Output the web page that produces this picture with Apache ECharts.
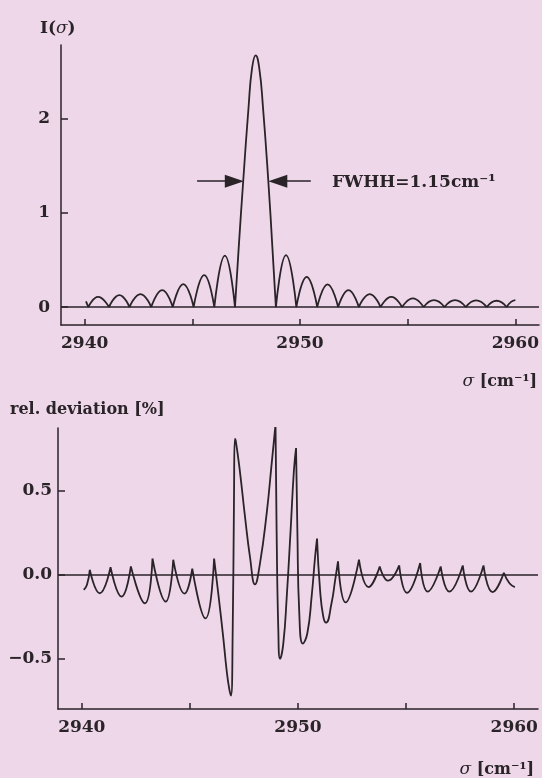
<!DOCTYPE html>
<html>
<head>
<meta charset="utf-8">
<script src="https://cdn.jsdelivr.net/npm/echarts@6/dist/echarts.min.js"></script>
<style>
  html, body { margin: 0; padding: 0; background: #edd7e9; }
  #chart { width: 542px; height: 778px; }
</style>
</head>
<body>
<div id="chart"></div>
<script>
// upper panel: line shape I(sigma), one lobe per row, null = break at a zero
const topSigma = [
  2940.06, 2940.17, null,
  2940.17, 2940.62, 2941.13, null,
  2941.13, 2941.61, 2942.08, null,
  2942.08, 2942.59, 2943.09, null,
  2943.09, 2943.60, 2944.09, null,
  2944.09, 2944.58, 2945.06, null,
  2945.06, 2945.55, 2946.02, null,
  2946.02, 2946.51, 2946.98, null,
  2946.98, 2947.15, 2947.36, 2947.61, 2947.77, 2947.94, 2948.11, 2948.28, 2948.53, 2948.72, 2948.88, null,
  2948.88, 2949.35, 2949.83, null,
  2949.83, 2950.31, 2950.80, null,
  2950.80, 2951.28, 2951.77, null,
  2951.77, 2952.25, 2952.73, null,
  2952.73, 2953.24, 2953.74, null,
  2953.74, 2954.24, 2954.74, null,
  2954.74, 2955.24, 2955.74, null,
  2955.74, 2956.22, 2956.71, null,
  2956.71, 2957.20, 2957.70, null,
  2957.70, 2958.18, 2958.67, null,
  2958.67, 2959.13, 2959.60, null,
  2959.60, 2959.80, 2960.00
];
const topIntensity = [
  0.06, 0, null,
  0, 0.109, 0, null,
  0, 0.127, 0, null,
  0, 0.138, 0, null,
  0, 0.18, 0, null,
  0, 0.244, 0, null,
  0, 0.339, 0, null,
  0, 0.546, 0, null,
  0, 0.62, 1.33, 2.12, 2.53, 2.67, 2.53, 2.12, 1.33, 0.62, 0, null,
  0, 0.551, 0, null,
  0, 0.321, 0, null,
  0, 0.241, 0, null,
  0, 0.18, 0, null,
  0, 0.138, 0, null,
  0, 0.109, 0, null,
  0, 0.092, 0, null,
  0, 0.074, 0, null,
  0, 0.074, 0, null,
  0, 0.072, 0, null,
  0, 0.067, 0, null,
  0, 0.055, 0.074
];

// lower panel: relative deviation [%], null = break at a cusp
const devSigma = [
  2940.09, 2940.24, 2940.37, null,
  2940.37, 2940.83, 2941.33, null,
  2941.33, 2941.84, 2942.27, null,
  2942.27, 2942.92, 2943.27, null,
  2943.27, 2943.88, 2944.23, null,
  2944.23, 2944.75, 2945.11, null,
  2945.11, 2945.72, 2946.12, null,
  2946.12, 2946.32, 2946.54, 2946.70, 2946.82, 2946.90, 2946.98, 2947.04, 2947.08, 2947.12,
  2947.31, 2947.55, 2947.78, 2948.01, 2948.24, 2948.55, 2948.78, 2948.96, null,
  2948.96, 2949.01, 2949.09, 2949.17, 2949.32, 2949.48, 2949.66, 2949.81, 2949.91, null,
  2949.91, 2949.97, 2950.06, 2950.22, 2950.43, 2950.63, 2950.79, 2950.88, null,
  2950.88, 2951.02, 2951.17, 2951.30, 2951.55, 2951.72, 2951.85, null,
  2951.85, 2952.20, 2952.82, null,
  2952.82, 2953.26, 2953.78, null,
  2953.78, 2954.17, 2954.68, null,
  2954.68, 2955.04, 2955.65, null,
  2955.65, 2956.00, 2956.60, null,
  2956.60, 2957.00, 2957.62, null,
  2957.62, 2958.00, 2958.58, null,
  2958.58, 2959.00, 2959.52, null,
  2959.52, 2959.78, 2960.03
];
const devValue = [
  -0.09, -0.06, 0.03, null,
  0.03, -0.11, 0.045, null,
  0.045, -0.13, 0.05, null,
  0.05, -0.17, 0.097, null,
  0.097, -0.16, 0.09, null,
  0.09, -0.112, 0.037, null,
  0.037, -0.26, 0.097, null,
  0.097, -0.12, -0.37, -0.57, -0.68, -0.72, -0.33, 0.46, 0.81, 0.8,
  0.62, 0.345, 0.106, -0.057, 0.067, 0.365, 0.66, 0.895, null,
  0.895, 0.27, -0.33, -0.5, -0.41, -0.13, 0.27, 0.62, 0.755, null,
  0.755, 0.27, -0.23, -0.41, -0.35, -0.13, 0.106, 0.216, null,
  0.216, -0.09, -0.25, -0.285, -0.17, -0.03, 0.08, null,
  0.08, -0.165, 0.09, null,
  0.09, -0.073, 0.05, null,
  0.05, -0.035, 0.056, null,
  0.056, -0.108, 0.07, null,
  0.07, -0.1, 0.05, null,
  0.05, -0.1, 0.056, null,
  0.056, -0.1, 0.056, null,
  0.056, -0.103, 0.012, null,
  0.012, -0.05, -0.073
];

// FWHH arrows (sigma of tail, sigma of head) and their height
const fwhhLeft = [2945.22, 2946.95];
const fwhhRight = [2950.50, 2948.97];
const fwhhLevel = 1.335;

const sigmaTicks = [2940, 2945, 2950, 2955, 2960];
const sigmaLabels = [2940, 2950, 2960];
const intensityTicks = [0, 1, 2];
const deviationTicks = [-0.5, 0, 0.5];

const ink = '#2a2328';
const serif = '"DejaVu Serif", "Liberation Serif", serif';

const chart = echarts.init(document.getElementById('chart'));

function sigmaAxis(gridIndex) {
  return {
    type: 'value',
    gridIndex: gridIndex,
    min: 2938.9,
    max: 2961.1,
    axisLine: { onZero: false, lineStyle: { color: ink, width: 1.5 } },
    axisTick: { inside: true, length: 6, customValues: sigmaTicks, lineStyle: { color: ink, width: 1.5 } },
    axisLabel: {
      customValues: sigmaLabels,
      margin: 10,
      color: ink,
      fontFamily: serif,
      fontWeight: 'bold',
      fontSize: 17,
      formatter: function (v) {
        return String(v);
      }
    },
    splitLine: { show: false }
  };
}

const zeroLine = {
  silent: true,
  animation: false,
  symbol: 'none',
  label: { show: false },
  lineStyle: { color: ink, width: 1.5, type: 'solid' },
  data: [{ yAxis: 0 }]
};

const option = {
  backgroundColor: '#edd7e9',
  animation: false,
  grid: [
    { left: 61, top: 45, width: 480, height: 280 },
    { left: 58, top: 428, width: 480, height: 281 }
  ],
  xAxis: [sigmaAxis(0), sigmaAxis(1)],
  yAxis: [
    {
      type: 'value',
      gridIndex: 0,
      min: -0.19,
      max: 2.78,
      axisLine: { show: true, onZero: false, lineStyle: { color: ink, width: 1.5 } },
      axisTick: { show: true, inside: true, length: 7, customValues: intensityTicks, lineStyle: { color: ink, width: 1.5 } },
      axisLabel: {
        customValues: intensityTicks,
        margin: 11,
        color: ink,
        fontFamily: serif,
        fontWeight: 'bold',
        fontSize: 17
      },
      splitLine: { show: false }
    },
    {
      type: 'value',
      gridIndex: 1,
      min: -0.8,
      max: 0.875,
      axisLine: { show: true, onZero: false, lineStyle: { color: ink, width: 1.5 } },
      axisTick: { show: true, inside: true, length: 7, customValues: deviationTicks, lineStyle: { color: ink, width: 1.5 } },
      axisLabel: {
        customValues: deviationTicks,
        margin: 6,
        color: ink,
        fontFamily: serif,
        fontWeight: 'bold',
        fontSize: 17,
        formatter: function (v) {
          return (v < 0 ? '\u2212' : '') + Math.abs(v).toFixed(1);
        }
      },
      splitLine: { show: false }
    }
  ],
  series: [
    {
      name: 'I',
      type: 'line',
      xAxisIndex: 0,
      yAxisIndex: 0,
      showSymbol: false,
      smooth: 0.5,
      connectNulls: false,
      lineStyle: { color: ink, width: 1.8 },
      data: topSigma.map((s, i) => [s, topIntensity[i]]),
      markLine: zeroLine
    },
    {
      name: 'fwhh',
      type: 'line',
      xAxisIndex: 0,
      yAxisIndex: 0,
      showSymbol: false,
      lineStyle: { opacity: 0 },
      data: [[fwhhLeft[0], fwhhLevel]],
      markLine: {
        silent: true,
        animation: false,
        symbol: ['none', 'triangle'],
        symbolSize: [13, 19],
        label: { show: false },
        lineStyle: { color: ink, width: 1.5, type: 'solid' },
        itemStyle: { color: ink },
        data: [
          [{ coord: [fwhhLeft[0], fwhhLevel] }, { coord: [fwhhLeft[1], fwhhLevel] }],
          [{ coord: [fwhhRight[0], fwhhLevel] }, { coord: [fwhhRight[1], fwhhLevel] }]
        ]
      }
    },
    {
      name: 'deviation',
      type: 'line',
      xAxisIndex: 1,
      yAxisIndex: 1,
      showSymbol: false,
      smooth: 0.5,
      connectNulls: false,
      lineStyle: { color: ink, width: 1.8 },
      data: devSigma.map((s, i) => [s, devValue[i]]),
      markLine: zeroLine
    }
  ],
  graphic: [
    {
      type: 'text',
      x: 40, y: 29,
      style: {
        text: '{b|I(}{i|\u03c3}{b|)}',
        verticalAlign: 'middle', textVerticalAlign: 'middle',
        rich: {
          b: { fontFamily: serif, fontWeight: 'bold', fontSize: 17, fill: ink, color: ink },
          i: { fontFamily: serif, fontStyle: 'italic', fontSize: 17, fill: ink, color: ink }
        }
      }
    },
    {
      type: 'text',
      x: 332, y: 183,
      style: {
        text: 'FWHH=1.15cm\u207b\u00b9',
        font: 'bold 17px ' + serif,
        fill: ink,
        verticalAlign: 'middle', textVerticalAlign: 'middle'
      }
    },
    {
      type: 'text',
      x: 537, y: 382,
      style: {
        text: '{i|\u03c3}{b| [cm\u207b\u00b9]}',
        align: 'right', textAlign: 'right',
        verticalAlign: 'middle', textVerticalAlign: 'middle',
        rich: {
          b: { fontFamily: serif, fontWeight: 'bold', fontSize: 16, fill: ink, color: ink },
          i: { fontFamily: serif, fontStyle: 'italic', fontSize: 17, fill: ink, color: ink }
        }
      }
    },
    {
      type: 'text',
      x: 10, y: 410,
      style: {
        text: 'rel. deviation [%]',
        font: 'bold 16px ' + serif,
        fill: ink,
        verticalAlign: 'middle', textVerticalAlign: 'middle'
      }
    },
    {
      type: 'text',
      x: 534, y: 770,
      style: {
        text: '{i|\u03c3}{b| [cm\u207b\u00b9]}',
        align: 'right', textAlign: 'right',
        verticalAlign: 'middle', textVerticalAlign: 'middle',
        rich: {
          b: { fontFamily: serif, fontWeight: 'bold', fontSize: 16, fill: ink, color: ink },
          i: { fontFamily: serif, fontStyle: 'italic', fontSize: 17, fill: ink, color: ink }
        }
      }
    }
  ]
};

chart.setOption(option);
</script>
</body>
</html>
